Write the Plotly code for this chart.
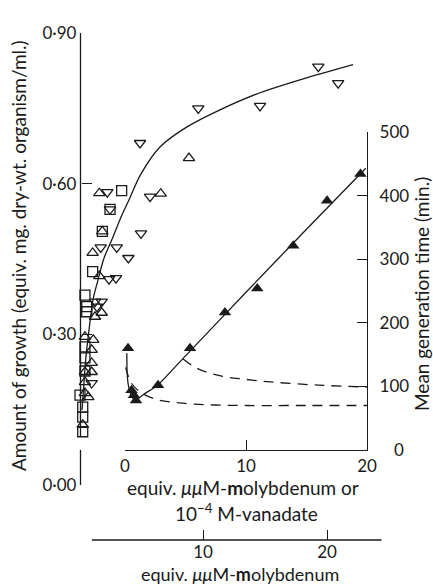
import plotly.graph_objects as go

W, H = 433, 586

# ---------------- data ----------------
# Open symbols: growth vs equiv. uuM-molybdenum (outer bottom scale, left axis)
sq_x = [3.44, 2.50, 1.88, 1.10, 0.48, 0.62, 0.62, 0.48, 0.48, 0.48, 0.08, 0.30, 0.30, 0.30]
sq_y = [0.586, 0.549, 0.505, 0.425, 0.378, 0.355, 0.345, 0.275, 0.253, 0.227, 0.179, 0.155, 0.135, 0.106]
tu_x = [1.64, 6.59, 8.87, 1.88, 1.10, 1.64, 1.83, 1.29, 0.48, 1.15, 1.02, 1.02, 0.48, 1.02, 0.48, 0.48, 0.75, 0.30]
tu_y = [0.581, 0.580, 0.651, 0.505, 0.462, 0.416, 0.343, 0.335, 0.295, 0.289, 0.269, 0.243, 0.225, 0.225, 0.205, 0.183, 0.175, 0.120]
td_x = [2.28, 2.50, 5.00, 1.75, 3.04, 3.98, 2.42, 2.98, 1.29, 1.83, 1.45, 1.02, 5.73, 4.92, 9.62, 14.6, 19.3, 20.9]
td_y = [0.583, 0.549, 0.501, 0.473, 0.473, 0.452, 0.410, 0.412, 0.365, 0.365, 0.355, 0.203, 0.574, 0.681, 0.750, 0.755, 0.833, 0.800]
# fitted growth curve
gc_x = [0.24, 0.40, 0.56, 0.81, 1.13, 1.53, 2.02, 2.74, 3.47, 4.11, 4.92, 6.53, 8.71, 11.37, 14.6, 18.4, 22.1]
gc_y = [0.149, 0.203, 0.255, 0.309, 0.369, 0.408, 0.452, 0.494, 0.538, 0.572, 0.616, 0.673, 0.713, 0.747, 0.781, 0.811, 0.837]

# Filled triangles: mean generation time vs inner scale (right axis)
ft_x = [0.25, 0.54, 0.74, 0.91, 2.73, 5.37, 8.26, 10.93, 13.9, 16.7, 19.46]
ft_v = [160, 94, 86, 78, 102, 160, 216, 254, 321, 392, 434]
# solid line through filled triangles
gl_x = [0.15, 0.17, 0.25, 0.4, 0.6, 0.83, 1.5, 2.7, 5, 10, 15, 19.9]
gl_v = [152, 125, 105, 92, 83, 77, 87, 102, 148, 248, 347, 443]
# dashed curves
ud_x = [4.8, 6, 8, 10, 12, 16, 20]
ud_v = [143, 128, 116, 111, 107, 102, 99]
ld_x = [0.05, 0.5, 1.2, 2.5, 4.5, 7, 10, 15, 20]
ld_v = [130, 106, 92, 80, 74, 71, 70, 70, 70]

left_ticks = [0, 0.3, 0.6, 0.9]
left_text = ["0·00", "0·30", "0·60", "0·90"]
right_ticks = [100, 200, 300, 400, 500]
inner_ticks = [0, 10, 20]
outer_ticks = [10, 20]

FONT = "Lato"
INK = "#1a1a1a"

def px(x):
    return x / W

def py(y):
    return (H - y) / H

fig = go.Figure()

mk = dict(size=10, color=INK, line=dict(width=1.3, color=INK))
fig.add_trace(go.Scatter(x=gc_x, y=gc_y, mode="lines", line=dict(color=INK, width=1.3, shape="spline", smoothing=0.8),
                         xaxis="x", yaxis="y", hoverinfo="skip"))
fig.add_trace(go.Scatter(x=sq_x, y=sq_y, mode="markers", marker=dict(symbol="square-open", **mk),
                         xaxis="x", yaxis="y", cliponaxis=False))
fig.add_trace(go.Scatter(x=tu_x, y=tu_y, mode="markers", marker=dict(symbol="triangle-up-open", **mk),
                         xaxis="x", yaxis="y", cliponaxis=False))
fig.add_trace(go.Scatter(x=td_x, y=td_y, mode="markers", marker=dict(symbol="triangle-down-open", **mk),
                         xaxis="x", yaxis="y", cliponaxis=False))

fig.add_trace(go.Scatter(x=gl_x, y=gl_v, mode="lines", line=dict(color=INK, width=1.3, shape="spline", smoothing=0.6),
                         xaxis="x2", yaxis="y2"))
fig.add_trace(go.Scatter(x=ud_x, y=ud_v, mode="lines", line=dict(color=INK, width=1.3, dash="10px,7px", shape="spline"),
                         xaxis="x2", yaxis="y2"))
fig.add_trace(go.Scatter(x=ld_x, y=ld_v, mode="lines", line=dict(color=INK, width=1.3, dash="10px,7px", shape="spline"),
                         xaxis="x2", yaxis="y2"))
fig.add_trace(go.Scatter(x=ft_x, y=ft_v, mode="markers", marker=dict(symbol="triangle-up", size=11, color=INK),
                         xaxis="x2", yaxis="y2", cliponaxis=False))

tickfont = dict(family=FONT, size=17, color=INK)
common = dict(showgrid=False, zeroline=False, ticks="inside", ticklen=10, tickwidth=1.3, tickcolor=INK,
              tickfont=tickfont, linecolor=INK, linewidth=1.3, automargin=False)

x0_px, x_end_px = 79, 382
fig.update_layout(
    width=W, height=H, margin=dict(l=0, r=0, t=0, b=0, pad=0, autoexpand=False),
    paper_bgcolor="white", plot_bgcolor="rgba(0,0,0,0)", showlegend=False,
    xaxis=dict(domain=[px(x0_px), px(x_end_px)], range=[0, (x_end_px - x0_px) / 12.4], anchor="free",
               position=py(540), showline=False, tickvals=outer_ticks, ticklabelstandoff=0, **common),
    yaxis=dict(domain=[py(485), py(33)], range=[0, 0.9], anchor="free", position=px(80.5),
               showline=False, tickvals=left_ticks, ticktext=left_text, ticklabelstandoff=4, **common),
    xaxis2=dict(domain=[px(125), px(367)], range=[0, 20], anchor="y2", showline=True,
                tickvals=inner_ticks, ticklabelstandoff=0, **common),
    yaxis2=dict(domain=[py(450), py(132)], range=[0, 500], anchor="x2", side="right", showline=True,
                tickvals=right_ticks, ticklabelstandoff=8, **common),
)

# axis lines drawn as segments (outer bottom axis and broken left axis)
fig.add_shape(type="line", xref="x", yref="paper", x0=1.05, x1=24.4, y0=py(540), y1=py(540),
              line=dict(color=INK, width=1.3))
fig.add_shape(type="line", xref="paper", yref="y", x0=px(80.5), x1=px(80.5), y0=0.096, y1=0.9,
              line=dict(color=INK, width=1.3))
fig.add_shape(type="line", xref="paper", yref="y", x0=px(80.5), x1=px(80.5), y0=0, y1=0.07,
              line=dict(color=INK, width=1.3))

def ann(text, x, y, angle=0, size=19):
    fig.add_annotation(text=text, x=px(x), y=py(y), xref="paper", yref="paper", showarrow=False,
                       textangle=angle, font=dict(family=FONT, size=size, color=INK),
                       xanchor="center", yanchor="middle")

ann("Amount of growth (equiv. mg. dry-wt. organism/ml.)", 19, 256, -90)
ann("Mean generation time (min.)", 421, 294, -90)
ann("0", 399, 449, 0, 17)
ann("equiv. <i>μμ</i>M-<b>m</b>olybdenum or", 243, 487, 0, 19)
ann("10<sup>−4</sup> M-vanadate", 247, 512)
ann("equiv. <i>μμ</i>M-<b>m</b>olybdenum", 240, 574, 0, 18)

fig.write_html("out.html")
